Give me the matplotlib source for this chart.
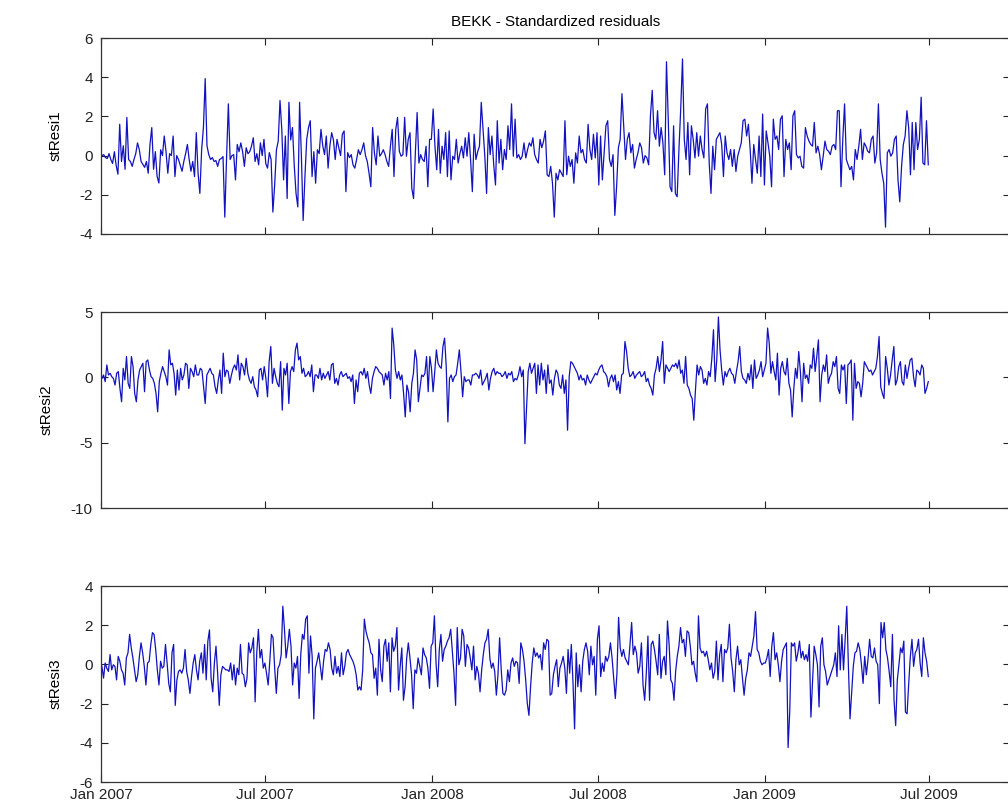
import matplotlib
matplotlib.use("Agg")
import matplotlib.pyplot as plt
import pandas as pd

plt.rcParams['font.family'] = ['Liberation Sans', 'DejaVu Sans']
plt.rcParams['axes.unicode_minus'] = False

title = "BEKK - Standardized residuals"
series_names = ["stResi1", "stResi2", "stResi3"]
start_date = "2007-01-02"
end_date = "2009-06-30"
tick_dates = ["2007-01-01", "2007-07-01", "2008-01-01", "2008-07-01",
              "2009-01-01", "2009-07-01"]
tick_labels = ["Jan 2007", "Jul 2007", "Jan 2008", "Jul 2008",
               "Jan 2009", "Jul 2009"]

stResi1 = [
    0.0, 0.05, -0.1, -0.15, 0.1, -0.2, -0.4, 0.2, -0.5, -0.95, 1.6, -0.3, 0.5, -0.7, 1.95,
    -0.2, -0.3, -0.55, -0.2, 0.1, 0.65, 0.3, -0.3, -0.45, -0.6, -0.3, -0.9, 0.57, 1.43, -0.7,
    0.2, -1.07, -1.4, 0.3, 0.0, 1.0, 0.2, -0.9, 0.1, 0.0, 1.0, -1.07, 0.0, -0.2, -0.5,
    -0.8, -0.3, 0.1, 0.57, -0.2, -0.8, -0.3, -1.07, 1.17, -0.9, -1.93, 0.3, 1.43, 3.93, 0.5,
    0.05, -0.2, -0.1, -0.3, -0.25, -0.55, -0.2, -0.15, -0.05, -3.14, -0.1, 2.64, -0.2, 0.0, 0.05,
    -1.24, 0.57, 0.2, 0.65, 0.2, -0.55, 0.4, 0.1, 0.2, 0.48, 0.91, -0.3, 0.1, -0.47, 0.65,
    0.0, 0.83, -0.4, -0.64, 0.15, -0.2, -2.88, -1.5, 0.3, 0.74, 2.81, 1.34, -1.24, 1.0, -2.19,
    2.72, 0.8, 1.43, -0.5, -1.93, -2.62, 2.72, 0.0, -3.31, -1.07, 0.83, 1.43, 1.78, -1.07, 0.2,
    -1.41, 0.3, 0.1, 1.34, 0.5, 0.05, 1.0, -0.64, 0.5, 1.17, 0.8, -0.2, 0.83, 0.4, 0.0,
    1.09, 1.26, -1.84, 0.15, -0.1, 0.05, -0.47, -0.64, -0.2, 0.3, 0.05, 0.3,
    0.65, 0.0, -0.3, -0.9, -1.59, 1.43, 0.14, -0.47, 1.0, -0.03, 0.1, 0.3, 0.05, -0.3, -0.55,
    0.48, 1.34, -1.07, 1.34, 1.95, 0.22, -0.03, 0.05, 1.95, -0.03, 0.83, 1.17, -1.67, -2.19, 0.14,
    2.2, -0.38, 0.05, -0.2, -0.3, 0.48, -1.59, 0.83, 0.83, 2.38, 0.48, -0.72, 1.34, -0.9, 0.48,
    -0.2, 1.17, -1.07, 1.26, -1.24, -0.03, -0.2, 0.83, -0.38, 0.1, 0.48, -0.12, 0.91, -0.03, 1.17,
    -0.2, -1.84, 1.09, -0.2, 0.2, 0.48, 2.72, 1.34, -0.03, -1.93, 1.43, 0.05, 1.0, -0.47, -1.5,
    1.78, -0.38, 0.83, -0.72, 0.31, -0.2, 1.52, 0.31, 2.64, -0.03, 1.86, -0.12, 0.05, -0.2, -0.03,
    0.65, -0.12, 0.31, 0.65, 0.48, 0.91, 0.05, -0.2, -0.38, 0.83, 0.4, 0.74, 1.26, -0.98, -1.07,
    -0.55, -1.41, -3.14, -0.9, -1.24, -0.72, -0.9, -1.07, 1.78, -0.98, -0.03, -0.55, -0.2, -1.41, 0.14,
    -0.38, 1.0, 0.14, 0.31, -0.2, -0.38, 1.6, 0.31, -0.2, 1.09, -0.12, 1.17, -1.5, 1.0, -1.24,
    0.14, 1.52, 1.78, -0.2, -0.55, 0.05, -3.05, -1.59, 0.4, 0.83, 3.16, 1.52, -0.2, 0.83, 1.17,
    0.14, 0.57, -0.64, -0.2, 0.14, 0.65,
    0.4, -0.38, 0.0, -0.12, -0.47, 2.03, 3.33, 1.17, 0.83, 2.29, 0.48, 1.43, 0.65, -0.98, 4.79,
    1.86, -1.59, -1.84, 1.52, -1.93, -2.1, 0.31, 2.38, 4.93, 0.83, -0.2, 1.69, -0.98, 1.52, 0.83,
    -0.12, 1.17, -0.03, 1.0, 0.31, -0.12, 2.38, 2.64, -0.38, -1.93, 0.48, -0.72, 0.83, 1.0, 1.17,
    0.57, -1.07, 1.0, 0.14, -0.2, 0.31, -0.55, 0.31, -0.81, -0.03, 0.31, 0.65, 1.78, 1.86, 1.0,
    1.6, 0.31, -1.41, 0.57, -0.2, -0.9, 1.0, -1.07, 2.12, -1.5, 1.26, 0.65, -0.03, -1.59, 1.86,
    0.83, 1.0, 0.31, 1.86, 2.03, -1.07, 0.83, 0.31, 0.65, -0.72, 2.03, 2.29, 0.05, -0.12, -0.03,
    -0.55, -0.64, 1.43, 1.0, 0.74, 0.57, 0.48, 1.69, 0.14, 0.48, 0.05, -0.72, -0.03, 0.74, 0.31,
    0.22, 0.05, 0.48, 0.57, 0.31, 2.29, 2.29, -1.59, 0.83, 2.64, -0.2, -0.47, -0.72, -0.55, -1.24,
    0.31, -0.2, 0.48, 1.34, -0.2, 0.65, 0.48, 0.22, 0.14, 0.83, 1.0, -0.38, 0.14, 2.64, -0.2,
    -0.9, -1.41, -3.65, 0.14, 0.31, -0.03, 0.14, 0.83, 1.0, -1.24, -2.36, -0.55, 0.57, 1.0, 2.29,
    1.43, -0.98, 1.69, -0.72, 1.69, 0.31, 0.83, 2.98, -0.38, -0.47, 1.78, -0.47,
]

stResi2 = [
    -0.08, 0.18, -0.33, 0.95, 0.18, 0.31, 0.05, -0.08, -0.59, 0.31, 0.44, -0.85, -1.87, 0.69, -0.2,
    1.59, -0.46, -0.85, 1.59, 0.82, -1.23, -1.87, -0.2, 0.56, 0.82, 1.08, -1.1, 1.2, 1.33, 0.56,
    0.05, -0.08, -0.46, -1.23, -2.64, -0.33, 0.31, 0.82, 0.44, 0.05, -0.59, 2.1, 0.95, 1.08, 0.31,
    -1.36, 0.56, -0.97, 0.69, -0.2, 0.18, 1.08, 0.95, -0.85, 0.69, 0.44, 0.05, 0.95, 0.18, 0.18,
    0.69, 0.56, -0.72, -2.0, 0.18, 0.44, 0.69, 0.31, 0.18, -0.72, -1.23, -0.2, 0.56, -1.23, 1.85,
    0.05, 0.56, 0.44, -0.46, 0.18, 0.69, 0.95, 0.56, 1.72, -0.2, 1.08, 0.82, 0.18, 1.46, 0.31,
    -0.2, -0.46, 0.05, -0.72, -0.97, -1.49, 0.56, 0.69, -0.2, 0.82, -0.08, -1.49, 1.2, 2.36, -0.46,
    0.69, 0.05, -0.46, -0.72, 1.2, -2.51, 0.69, 0.18, 1.08, -2.0, 0.44, 0.82, 0.44, 2.1, 2.62,
    1.33, 1.59, 0.31, 0.69, 0.05, 0.18, 0.44, 0.05, 0.95, -1.1, 0.18, 0.18, -0.08, 0.69, -0.2,
    0.31, -0.08, 0.18, 0.44, -0.2, 0.95, 1.08, -0.46, -0.08, -0.59, 0.18, 0.44, 0.05, 0.18, 0.31,
    -0.08, 0.05, -0.33, 0.18, -2.0, -0.2, -1.1, 0.31, 0.44, 0.18, 0.69, -0.08, 0.44, -0.59, -1.23,
    -0.08, 0.44, 0.82, 0.69, 0.44, 0.31, 0.18, -0.59, 0.31, -0.2, 0.44, -1.62, 3.77, 2.49, 0.56,
    -0.08, 0.44, -0.2, 0.18, -1.23, -3.03, -0.59, -1.1, -2.64, -0.46, 0.31, 2.1, 1.33, -1.87, -0.85,
    0.18, 0.05, 0.31, 1.59, -1.1, 1.59, 0.69, -1.1, 0.44, 2.1, 1.08, 0.82, 0.69, 2.36, 3.0,
    0.82, -3.41, -0.08, 0.18, -0.33, 0.05, 0.18, 1.08, 2.1, 0.44, -1.49, 0.05, -0.33, -0.2, -0.2,
    -0.59, 0.18, 0.18, 0.31, 0.18, -0.08, 0.56, -0.59, -0.33, -0.08, 0.31, -0.97, -0.08, 0.44, 0.69,
    0.18, 0.44, 0.31, 0.31, 0.05, 0.18, 0.44, -0.08, 0.31, 0.18, 0.44, -0.33, -0.08, -0.2, 0.18,
    0.82, 0.05, 0.56, -5.08, -2.38, 0.44, 1.08, 0.31, 0.69, 1.08, -1.23, 0.95, -0.59, 1.08, -0.2,
    0.56, -1.23, 0.95, -0.46, -0.2, -1.36, -0.08, 0.56, 0.31, -0.59, -0.85, 0.18, -1.23, -0.2, -4.05,
    0.05, 1.2, 1.08, 0.82, 0.56, 0.31, -0.2, 0.18, -0.2, -0.08, -0.59, 0.18, -0.2, -0.46, -0.2,
    0.05, 0.31, 0.18, 0.56, 0.82, 0.95, 0.44, 0.31, 0.05, -0.72, -0.08, 0.18, -0.33, 0.18, -0.97,
    -0.33, -1.23, 0.18, 0.31, 2.74, 1.97, 0.69, 0.05, 0.18, 0.44, -0.08, 0.18, 0.31, 0.44, 0.05,
    0.18, 0.44, -0.33, -0.08, -0.59, -0.85,
    -1.36, 0.18, 0.69, 1.59, 0.44, 1.33, 2.74, -0.46, 0.95, 0.69, 0.44, 0.69, 0.95, 0.82, 1.08,
    0.69, 1.33, 0.31, 0.56, -0.46, 1.59, -0.59, -0.85, -1.36, -1.62, -3.28, -0.97, 0.95, 0.18, 0.82,
    0.56, -0.46, -0.08, -0.59, 0.44, 0.05, 1.46, 3.64, -0.33, 1.33, 4.62, 2.1, 0.56, -0.59, 0.44,
    0.05, 0.44, 0.69, 0.31, 0.18, -0.46, 0.44, 1.2, 2.36, 0.44, -0.08, -0.2, -0.46, 0.31, -0.2,
    0.95, -0.85, 1.33, -0.08, 0.18, 0.56, 1.2, 0.05, 0.56, 1.08, 3.77, 2.62, 0.31, 1.2, 0.44,
    -0.2, 1.85, -1.36, 0.69, 1.2, 0.44, 0.18, 1.46, -0.46, -0.97, -3.03, -0.85, 0.69, -0.08, 1.97,
    0.44, -1.87, 1.08, -0.08, 0.18, -0.46, 0.95, 0.69, 2.23, 0.44, 1.59, 2.87, -1.87, 0.18, 0.95,
    0.44, 1.72, -0.46, 0.05, 0.31, 1.2, 0.82, 1.59, -0.85, -1.23, 0.95, 0.56, 0.95, -2.0, 0.95,
    1.08, 1.33, -3.28, 1.08, -0.85, -0.33, -0.46, -1.49, -0.46, 1.2, 0.95, 0.69, 0.44, 0.56, 0.18,
    0.44, 0.69, 1.59, 3.13, -0.72, -1.23, -1.62, 1.59, 0.69, -0.59, 0.18, 1.33, 2.36, -0.59, -0.2,
    0.82, 1.2, -0.33, -0.59, 0.95, -0.08, 0.69, 1.33, 1.46, 0.05, -0.72, 0.56, 0.44, 0.18, 0.95,
    0.69, -1.23, -0.85, -0.33,
]

stResi3 = [
    -0.1, -0.7, 0.07, -0.19, -0.36, 0.5, -0.28, -0.02, -0.1, -0.79, 0.41, 0.16, -0.28, -0.45, -1.05,
    0.33, 0.59, 1.53, 0.84, 0.33, -0.28, -0.88, -0.53, 0.41, 1.1, 0.59, -0.1, -1.05, 0.07, 0.16,
    1.02, 1.62, 1.53, 0.76, -0.28, -1.05, 0.16, -0.19, -0.1, 1.02, 0.07, -0.97, -1.4, 0.59, 1.02,
    -2.09, -0.79, -0.36, -0.28, -0.45, -0.19, 0.76, -0.36, -0.79, -1.48, -0.62, 0.07, 0.5, -0.28, -0.79,
    0.16, 0.59, -0.45, 1.02, -0.79, 1.19, 1.76, -0.71, -1.4, 0.07, 0.93, -0.45, -2.09, -0.53, -0.1,
    -0.19, -0.28, -0.28, -0.36, 0.07, -0.79, -0.02, -1.05, -0.19, -0.53, 1.02, -0.45, -0.53, -1.14, -0.71,
    1.1, 0.59, 0.84, 1.36, -1.91, 0.59, 1.79, 0.33, 0.76, -0.19, 0.07, -0.45, -1.05, 0.16, 1.53,
    1.36, -0.19, -1.48, -0.19, -0.02, 0.5, 2.97, 1.79, 0.33, 0.93, 1.79, 0.93, -1.05, 0.07, -0.19,
    0.41, -1.74, 0.5, 1.53, 1.28, 2.31, 2.48, -0.45, 1.45, 0.41, -2.78, -0.19, 0.16, 0.59, -0.1,
    -0.79, 0.16, 0.76, 0.67, 1.1, 0.76, -0.19, -0.53, 0.41, -0.45, -0.1, -0.62, 0.59, -0.53, -0.1,
    0.59, 0.76, 0.5, 0.33, 0.16, -0.1, -0.53, -1.31, -1.14, -1.31, -0.28, 2.31, 1.7, 1.36, 1.1,
    0.59, 0.5, -0.71, -0.19, -1.57,
    1.28, -0.28, -0.88, 0.93, 1.28, 0.16, 1.1, -1.4, 1.36, 0.67, 0.93, 1.88, -1.31, -0.1, 0.84,
    -1.83, -1.14, 0.33, 1.1, 0.33, -0.53, -2.26, -0.28, -0.45, 0.33, -0.1, -0.53, 0.84, 0.5, 0.33,
    -0.19, -1.22, 0.93, 1.1, 2.48, 0.07, -1.14, 0.76, 1.53, 0.16, 0.76, 0.93, 1.19, 1.36, 1.79,
    0.67, -0.45, -2.09, 1.88, -0.02, 0.33, 1.79, 1.45, -0.1, 1.02, 0.84, 0.33, -0.28, 0.93, -0.79,
    -0.1, -0.45, -1.4, -0.28, 0.5, 1.1, 1.28, 1.79, 0.33, -0.19, 0.07, -0.36, -1.57, -0.53, 1.36,
    -0.28, -1.48, -1.57, -1.31, -0.28, -0.88, 0.07, 0.33, -0.1, 0.16, 0.07, -0.97, 1.1, 0.76, 0.16,
    -0.79, -2.0, -2.6, -1.14, 0.07, 0.84, 0.41, 0.59, 0.33, 0.5, -0.28, 1.1, 0.76, 1.28, 1.19,
    -1.57, -1.48, -0.53, -0.1, 0.24, -1.14, -0.19, 0.07, 0.41, -0.19, -1.48, 0.76, -0.45, 1.02, -0.88,
    -3.29, 0.59, -1.14, -0.02, -1.4, 0.16, 0.76, 1.1, 0.67, -0.53, 0.93, -0.02, 0.41, -1.57, 1.28,
    1.97, -0.62, 0.07, -0.36, 0.41, 0.16, 0.41, 1.1, 0.33, -0.71, -1.74, -0.45, 2.4, 0.84, 0.41,
    0.76, 0.33, 0.16, -0.02, 1.02, 2.14, 0.5, 0.93, 0.59, -0.45, -0.1, 1.1, -1.05, -1.83, -0.45,
    1.45, -1.83, 1.02, 1.19, 0.76, 0.16, -0.53,
    1.53, -0.71, 0.16, 0.41, -0.53, 2.22, 1.02, -0.79, -0.97, -1.83, -0.36, 0.41, 0.93, 1.88, 1.1,
    1.28, 0.41, 1.71, 1.62, 0.93, -0.02, 0.16, -0.45, -0.88, 2.48, 0.84, 0.59, 0.67, 0.41, 0.67,
    0.24, -0.28, 0.07, -0.71, -0.36, 1.19, -0.79, 0.5, 1.02, -0.88, 0.76, 0.59, 0.84, 2.05, 0.33,
    -0.36, -1.4, 0.24, 0.93, -0.02, 0.24, -0.71, -1.57, -0.71, -0.28, 0.59, 0.41, 0.93, 1.45, 2.69,
    0.76, 0.59, 0.16, -0.02, 0.07, 0.07, 0.33, 0.76, -0.62, 0.93, 1.62, 0.24, 0.59, -0.02, -0.88,
    0.16, 0.76, 0.93, 1.1, -4.24, -2.43, 1.1, 0.93, 1.1, 0.16, 0.59, 1.19, 0.33, 0.67, 0.24,
    0.5, 0.16, 1.02, -2.69, -0.88, 0.93, 0.5, -0.02, -2.17, 0.93, 1.36, -0.02, -0.36, -1.05, -0.79,
    -0.53, -0.28, -0.02, 0.59, -0.62, 1.97, -0.28, 1.53, -0.28, 1.28, 2.97, -0.1, -2.78, -1.4, -0.1,
    0.59, 0.67, 1.1, 0.76, -0.02, -0.97, 0.41, -0.53, 0.24, 1.28, 0.41, 0.33, 0.84, 0.16, -0.02,
    -2.0, 2.14, 1.36, 2.14, 0.76, 0.33, -0.36, -1.14, 1.53, -1.83, -3.12, -0.79, -0.02, 0.84, 0.59,
    1.19, -2.43, -2.52, -0.97, 0.41, 1.28, -0.1, 0.59, 0.76, 1.28, 0.07, -0.62, 1.36, 0.59, 0.16,
    -0.62,
]

y_limits = [(-4, 6), (-10, 5), (-6, 4)]
y_ticks = [[-4, -2, 0, 2, 4, 6], [-10, -5, 0, 5], [-6, -4, -2, 0, 2, 4]]

fig = plt.figure(figsize=(10.08, 8.02), dpi=100)
fig.patch.set_facecolor("white")

# subplot geometry in pixels (the right spine sits just past the image edge)
W, H = 1008.0, 802.0
left_px, right_px = 101, 1010
tops_px = [38, 312, 586]
height_px = 196

x_min = pd.Timestamp("2007-01-01")
x_max = pd.Timestamp("2009-09-28")
text_size = 11

for i, (vals, name) in enumerate(zip([stResi1, stResi2, stResi3], series_names)):
    top = tops_px[i]
    ax = fig.add_axes([left_px / W, 1 - (top + height_px) / H,
                       (right_px - left_px) / W, height_px / H])
    dates = pd.date_range(start_date, end_date, periods=len(vals))
    ax.plot(dates, vals, color="#1212c0", linewidth=0.9)
    ax.set_xlim(x_min, x_max)
    ax.set_ylim(*y_limits[i])
    ax.set_yticks(y_ticks[i])
    ax.set_yticklabels([str(t) for t in y_ticks[i]])
    ax.set_xticks(pd.to_datetime(tick_dates))
    if i == 2:
        ax.set_xticklabels(tick_labels)
    else:
        ax.set_xticklabels([])
    ax.tick_params(direction="in", length=5, width=0.8, top=True, right=True,
                   labelsize=text_size, colors="#222222")
    ax.tick_params(axis="y", pad=6)
    ax.tick_params(axis="x", pad=4)
    for sp in ax.spines.values():
        sp.set_linewidth(0.9)
        sp.set_color("#333333")
    ax.set_ylabel(name, fontsize=text_size, labelpad=12)
    if i == 0:
        ax.set_title(title, fontsize=text_size, pad=9)

fig.savefig("out.png", dpi=100, facecolor="white")
